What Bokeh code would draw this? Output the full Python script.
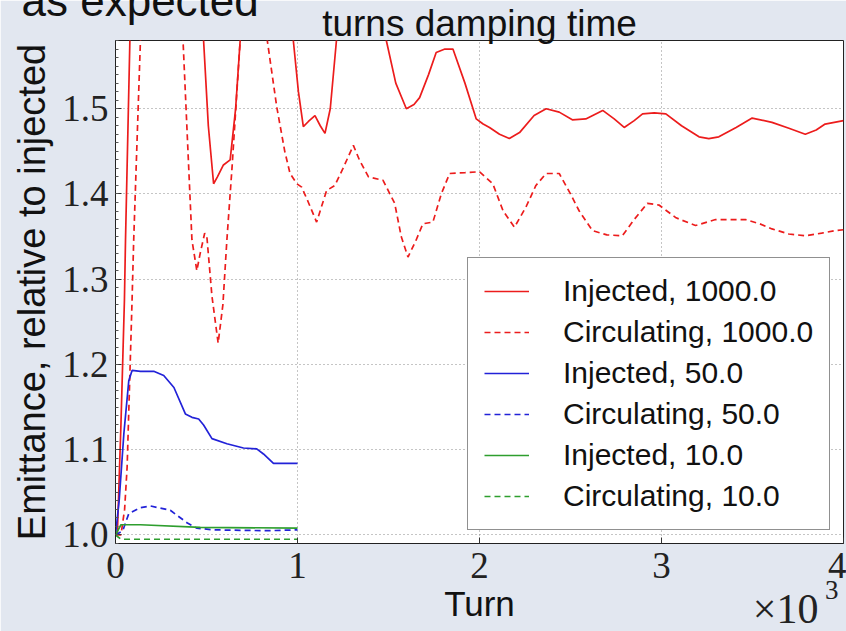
from bokeh.embed import file_html
from bokeh.models import Legend, LegendItem, Range1d, FixedTicker, PrintfTickFormatter, Title
from bokeh.plotting import figure
from bokeh.resources import INLINE

# Emittance growth, relative to the injected beam, for three damping times
turns_inj_1000 = [0, 10, 30, 49, 55, 79, 120, 250, 400, 484, 510, 539, 560, 593, 630, 660, 685,
                  760, 880, 977, 1005, 1032, 1060, 1096, 1125, 1151, 1180, 1214, 1300, 1420, 1488,
                  1540, 1598, 1640, 1671, 1720, 1762, 1810, 1854, 1920, 1982, 2020, 2055, 2110,
                  2164, 2220, 2300, 2366, 2438, 2510, 2584, 2677, 2740, 2795, 2850, 2896, 2960,
                  3024, 3110, 3206, 3260, 3315, 3410, 3498, 3607, 3700, 3790, 3850, 3899, 4000]
emit_inj_1000 = [1.0, 1.0, 1.13, 1.275, 1.346, 1.58, 1.8, 1.95, 1.8, 1.58, 1.48, 1.412, 1.42, 1.434,
                 1.44, 1.50, 1.58, 1.75, 1.72, 1.58, 1.52, 1.479, 1.485, 1.492, 1.48, 1.471, 1.50,
                 1.58, 1.70, 1.68, 1.58, 1.53, 1.500, 1.505, 1.513, 1.54, 1.566, 1.57, 1.570, 1.53,
                 1.488, 1.482, 1.478, 1.470, 1.465, 1.472, 1.492, 1.500, 1.496, 1.487, 1.488,
                 1.498, 1.488, 1.478, 1.486, 1.494, 1.495, 1.494, 1.48, 1.467, 1.465, 1.467, 1.478,
                 1.489, 1.484, 1.477, 1.470, 1.475, 1.482, 1.486]

turns_circ_1000 = [0, 30, 50, 64, 91, 100, 137, 200, 280, 340, 371, 420, 447, 465, 490, 502, 530,
                   564, 590, 612, 640, 685, 730, 790, 834, 886, 930, 959, 996, 1023, 1060, 1105,
                   1160, 1205, 1250, 1307, 1340, 1390, 1470, 1534, 1570, 1607, 1650, 1689, 1744,
                   1790, 1836, 1920, 2000, 2073, 2130, 2192, 2256, 2310, 2366, 2438, 2500, 2548,
                   2621, 2700, 2785, 2850, 2922, 2986, 3080, 3187, 3297, 3380, 3461, 3540, 3607,
                   3700, 3790, 3880, 3954, 4000]
emit_circ_1000 = [1.0, 1.0, 1.03, 1.08, 1.275, 1.346, 1.58, 1.8, 1.82, 1.7, 1.58, 1.346, 1.31, 1.33,
                  1.354, 1.35, 1.28, 1.225, 1.27, 1.346, 1.43, 1.58, 1.72, 1.70, 1.58, 1.502, 1.45,
                  1.424, 1.412, 1.408, 1.39, 1.367, 1.404, 1.41, 1.43, 1.457, 1.44, 1.420, 1.416,
                  1.389, 1.35, 1.326, 1.345, 1.365, 1.367, 1.40, 1.424, 1.425, 1.426, 1.412, 1.38,
                  1.361, 1.385, 1.41, 1.424, 1.424, 1.40, 1.380, 1.357, 1.352, 1.351, 1.37, 1.389,
                  1.387, 1.372, 1.363, 1.370, 1.370, 1.370, 1.365, 1.359, 1.353, 1.351, 1.354,
                  1.357, 1.358]

turns_inj_50 = [0, 20, 46, 73, 91, 137, 210, 265, 321, 384, 420, 457, 484, 530, 612, 703, 776,
                813, 868, 1000]
emit_inj_50 = [1.0, 1.04, 1.119, 1.181, 1.193, 1.192, 1.192, 1.187, 1.173, 1.142, 1.138, 1.136,
               1.129, 1.113, 1.107, 1.102, 1.101, 1.095, 1.084, 1.084]

turns_circ_50 = [0, 40, 73, 137, 192, 301, 395, 447, 538, 831, 1000]
emit_circ_50 = [1.0, 1.005, 1.025, 1.032, 1.034, 1.029, 1.014, 1.008, 1.006, 1.005, 1.006]

turns_inj_10 = [0, 30, 137, 466, 1000]
emit_inj_10 = [1.0, 1.012, 1.012, 1.009, 1.008]

turns_circ_10 = [0, 30, 1000]
emit_circ_10 = [1.0, 0.995, 0.995]

x_ticks = [0, 1000, 2000, 3000, 4000]
x_tick_labels = {0: "0", 1000: "1", 2000: "2", 3000: "3", 4000: "4"}
y_ticks = [1.0, 1.1, 1.2, 1.3, 1.4, 1.5]

RED = "#ec1c1c"
BLUE = "#2222d8"
GREEN = "#2e9e2e"
SLIDE_BG = "#e2e7f0"
SERIF = "Liberation Serif"
SANS = "Liberation Sans"

p = figure(width=846, height=631, output_backend="svg", toolbar_location=None,
           x_range=Range1d(0, 4000), y_range=Range1d(0.99, 1.58),
           min_border_left=115, min_border_right=3, min_border_top=40, min_border_bottom=88)

p.border_fill_color = SLIDE_BG
p.background_fill_color = "white"
p.outline_line_color = "#222222"
p.outline_line_width = 1

# slide heading above the chart
p.title.text = "turns damping time"
p.title.align = "center"
p.title.text_font = SANS
p.title.text_font_size = "37px"
p.title.text_font_style = "normal"
p.title.text_color = "#111111"
p.title.standoff = -7

# the previous slide line, running off the top edge
p.add_layout(Title(text="as expected", align="left", vertical_align="top",
                   text_font=SANS, text_font_size="44px", text_font_style="normal",
                   text_color="#111111", standoff=-129, offset=-94), "above")

# axes: ticks pointing inwards, big serif numerals
p.xaxis.ticker = FixedTicker(ticks=x_ticks)
p.xaxis.major_label_overrides = x_tick_labels
p.yaxis.ticker = FixedTicker(ticks=y_ticks, minor_ticks=[round(1.0 + 0.01 * i, 2) for i in range(-1, 59)])
p.yaxis.formatter = PrintfTickFormatter(format="%.1f")
for ax in (p.xaxis[0], p.yaxis[0]):
    ax.axis_line_color = "#222222"
    ax.major_tick_in = 6
    ax.major_tick_out = 0
    ax.minor_tick_in = 3
    ax.minor_tick_out = 0
    ax.major_tick_line_color = "#333333"
    ax.minor_tick_line_color = "#555555"
    ax.major_label_text_font = SERIF
    ax.major_label_text_font_size = "37px"
    ax.major_label_text_color = "#222222"
    ax.axis_label_text_font = SANS
    ax.axis_label_text_font_style = "normal"
    ax.axis_label_text_color = "#111111"
p.xaxis.minor_tick_line_color = None
p.xaxis.major_label_standoff = 9
p.xaxis.axis_label = "Turn"
p.xaxis.axis_label_text_font_size = "35px"
p.xaxis.axis_label_standoff = 3
p.yaxis.major_label_standoff = 7
p.yaxis.axis_label = "Emittance, relative to injected"
p.yaxis.axis_label_text_font_size = "38px"
p.yaxis.axis_label_standoff = 6

# scale factor of the turn axis, bottom right: "x10" with a raised exponent
p.add_layout(Title(text="\u00d710", align="right", vertical_align="top",
                   text_font=SERIF, text_font_size="42px", text_font_style="normal",
                   text_color="#222222", standoff=-80, offset=25), "below")
p.add_layout(Title(text="3", align="right", vertical_align="top",
                   text_font=SERIF, text_font_size="27px", text_font_style="normal",
                   text_color="#222222", standoff=-90, offset=5), "below")

p.grid.grid_line_color = "#8a8a8a"
p.grid.grid_line_dash = "1 3"
p.grid.grid_line_width = 1

series = [
    (turns_inj_1000, emit_inj_1000, RED, "solid", "Injected, 1000.0"),
    (turns_circ_1000, emit_circ_1000, RED, "6 4", "Circulating, 1000.0"),
    (turns_inj_50, emit_inj_50, BLUE, "solid", "Injected, 50.0"),
    (turns_circ_50, emit_circ_50, BLUE, "6 4", "Circulating, 50.0"),
    (turns_inj_10, emit_inj_10, GREEN, "solid", "Injected, 10.0"),
    (turns_circ_10, emit_circ_10, GREEN, "6 4", "Circulating, 10.0"),
]

items = []
for xs, ys, color, dash, name in series:
    r = p.line(xs, ys, line_color=color, line_width=1.7, line_dash=dash)
    items.append(LegendItem(label=name, renderers=[r]))

legend = Legend(items=items, location=(352, 13), orientation="vertical")
legend.label_text_font = SANS
legend.label_text_font_size = "30px"
legend.label_text_color = "#111111"
legend.glyph_width = 45
legend.glyph_height = 28
legend.label_height = 28
legend.label_standoff = 34
legend.spacing = 7
legend.padding = 16
legend.margin = 0
legend.border_line_color = "#222222"
legend.border_line_width = 1
legend.background_fill_color = "white"
legend.background_fill_alpha = 1.0
p.add_layout(legend)

open("out.html", "w").write(file_html(p, INLINE))
